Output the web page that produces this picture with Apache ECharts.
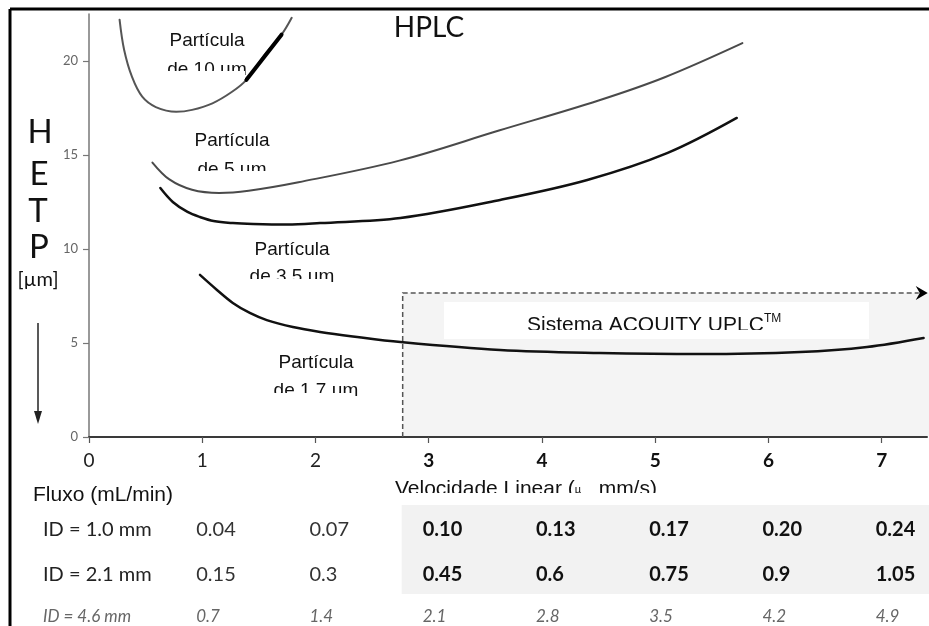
<!DOCTYPE html>
<html><head><meta charset="utf-8">
<script src="https://cdn.jsdelivr.net/npm/echarts@6/dist/echarts.min.js"></script>
<style>html,body{margin:0;padding:0;background:#fff}#c{width:929px;height:626px}</style>
</head><body><div id="c"></div>
<script>
// ---- data ----
const xTicks = [0, 1, 2, 3, 4, 5, 6, 7];
const yTicks = [0, 5, 10, 15, 20];
const boldFrom = 3;
const curve10 = [[0.27,22.2],[0.31,20.6],[0.38,19.15],[0.47,18.1],[0.59,17.55],[0.77,17.3],[0.91,17.4],[1.09,17.75],[1.26,18.35],[1.39,19.0],[1.56,20.4],[1.70,21.4],[1.79,22.3]];
const curve10Bold = [[1.39,19.0],[1.70,21.4]];
const curve5 = [[0.56,14.6],[0.71,13.7],[0.91,13.15],[1.15,12.98],[1.41,13.1],[1.85,13.55],[2.74,14.7],[3.62,16.3],[4.50,17.9],[5.09,19.15],[5.77,20.95]];
const curve35 = [[0.63,13.24],[0.74,12.5],[0.87,11.97],[0.98,11.7],[1.10,11.49],[1.27,11.38],[1.45,11.33],[1.75,11.3],[2.04,11.38],[2.75,11.65],[3.63,12.61],[4.40,13.67],[5.11,15.11],[5.72,16.97]];
const curve17 = [[0.98,8.62],[1.13,7.82],[1.27,7.13],[1.42,6.6],[1.57,6.22],[1.80,5.85],[2.04,5.59],[2.33,5.35],[2.75,5.05],[3.63,4.63],[4.51,4.47],[5.40,4.41],[6.28,4.52],[6.87,4.79],[7.37,5.27]];
const uplcCorner = [2.77, 7.66];
const uplcEndX = 7.38;
const flowCols = [1, 2, 3, 4, 5, 6, 7];
const rowLabels = ['ID = 1.0 mm', 'ID = 2.1 mm', 'ID = 4.6 mm'];
const flowID10 = ['0.04','0.07','0.10','0.13','0.17','0.20','0.24'];
const flowID21 = ['0.15','0.3','0.45','0.6','0.75','0.9','1.05'];
const flowID46 = ['0.7','1.4','2.1','2.8','3.5','4.2','4.9'];

// ---- chart ----
const FUT = 'Lato, "Open Sans", sans-serif';
const ARI = '"Liberation Sans", Arial, sans-serif';
const chart = echarts.init(document.getElementById('c'), null, {renderer: 'canvas', width: 929, height: 626});

function lineSeries(data, color, w, z) {
  return {type: 'line', data: data, smooth: 0.35, symbol: 'none', silent: true, z: z || 3,
    lineStyle: {color: color, width: w, cap: 'round'}};
}

chart.setOption({
  animation: false,
  backgroundColor: '#ffffff',
  grid: {left: 89, right: 2, top: 14, bottom: 189, containLabel: false, outerBoundsMode: 'none'},
  xAxis: {
    type: 'value', min: 0, max: 7.4, interval: 1,
    axisLine: {lineStyle: {color: '#3a3a3a', width: 2}},
    axisTick: {show: true, length: 6, customValues: xTicks, lineStyle: {color: '#555', width: 1.2}},
    axisLabel: {customValues: xTicks, margin: 14, fontFamily: FUT, fontSize: 19, color: '#222',
      formatter: function (v) { return v >= boldFrom ? '{b|' + v + '}' : String(v); },
      rich: {b: {fontWeight: 'bold', fontFamily: FUT, fontSize: 19, color: '#111'}}},
    splitLine: {show: false}
  },
  yAxis: {
    type: 'value', min: 0, max: 22.5, interval: 5,
    axisLine: {show: true, lineStyle: {color: '#777', width: 1.5}},
    axisTick: {show: true, length: 6, customValues: yTicks, lineStyle: {color: '#777', width: 1.2}},
    axisLabel: {customValues: yTicks, margin: 11, fontFamily: FUT, fontSize: 13, color: '#666'},
    splitLine: {show: false}
  },
  series: [
    lineSeries(curve10, '#555', 2),
    lineSeries(curve10Bold, '#000', 4, 4),
    lineSeries(curve5, '#4a4a4a', 2),
    lineSeries(curve35, '#111', 2.5),
    lineSeries(curve17, '#111', 2.5)
  ]
});

// ---- annotations positioned through the axes ----
function px(x, y) { return chart.convertToPixel({gridIndex: 0}, [x, y]); }
const origin = px(0, 0);
const corner = px(uplcCorner[0], uplcCorner[1]);
const endPt = px(uplcEndX, uplcCorner[1]);
const W = 929;

function txt(x, y, text, font, opts) {
  const o = opts || {};
  return {type: 'text', x: x, y: y, z: o.z || 10, scaleX: o.scaleX || 1, silent: true,
    style: Object.assign({text: text, fontFamily: font, fontSize: o.size || 19, fontWeight: o.weight || 'normal',
      fontStyle: o.style || 'normal', fill: o.color || '#111',
      align: o.align || 'center', textAlign: o.align || 'center',
      verticalAlign: 'middle', textVerticalAlign: 'middle'}, o.rich ? {rich: o.rich} : {})};
}
function rect(x, y, w, h, fill, z) {
  return {type: 'rect', silent: true, z: z, shape: {x: x, y: y, width: w, height: h}, style: {fill: fill}};
}

const g = [];
// frame
g.push({type: 'line', silent: true, z: 20, shape: {x1: 10, y1: 9, x2: W, y2: 9}, style: {stroke: '#000', lineWidth: 3}});
g.push({type: 'line', silent: true, z: 20, shape: {x1: 10, y1: 9, x2: 10, y2: 626}, style: {stroke: '#000', lineWidth: 3}});
// UPLC region
g.push(rect(corner[0], corner[1], W - corner[0], origin[1] - corner[1] - 1, '#f4f4f4', -1));
g.push(rect(corner[0] - 1, 505, W - corner[0] + 1, 89, '#f2f2f2', -1));
g.push({type: 'polyline', silent: true, z: 6, shape: {points: [[corner[0], origin[1]], [corner[0], corner[1]], [endPt[0] - 6, corner[1]]]},
  style: {stroke: '#555', lineWidth: 1.5, lineDash: [5, 3], fill: null}});
g.push({type: 'polygon', silent: true, z: 6, shape: {points: [[endPt[0] - 9, corner[1] - 7], [endPt[0] + 3, corner[1]], [endPt[0] - 9, corner[1] + 7], [endPt[0] - 5, corner[1]]]},
  style: {fill: '#000'}});
// Sistema ACQUITY box
g.push(rect(444, 302, 425, 37, '#ffffff', 7));
g.push(txt(527, 325, '{a|Sistema ACQUITY UPLC}{t|TM}', ARI, {size: 21, align: 'left',
  rich: {a: {fontFamily: ARI, fontSize: 21, color: '#111'}, t: {fontFamily: ARI, fontSize: 12, color: '#111', verticalAlign: 'top', padding: [0, 0, 12, 0]}}}));
g.push(rect(444, 330, 425, 9, '#ffffff', 11));
// HPLC
g.push(txt(429, 28, 'HPLC', FUT, {size: 28, color: '#111'}));
// HETP axis title
g.push(txt(40, 132, 'H', FUT, {size: 33}));
g.push(txt(39, 174, 'E', FUT, {size: 33}));
g.push(txt(38, 211, 'T', FUT, {size: 33}));
g.push(txt(39, 247, 'P', FUT, {size: 33}));
g.push(txt(38, 280, '[\u00b5m]', FUT, {size: 20}));
g.push({type: 'line', silent: true, z: 10, shape: {x1: 38, y1: 323, x2: 38, y2: 415}, style: {stroke: '#222', lineWidth: 1.5}});
g.push({type: 'polygon', silent: true, z: 10, shape: {points: [[34, 411], [38, 424], [42, 411]]}, style: {fill: '#222'}});
// particle labels (second line clipped at bottom, as in the original)
const plabels = [
  {cx: 207, b1: 47, b2: 76, clip: 71, t: 'de 10 \u00b5m'},
  {cx: 232, b1: 147, b2: 176, clip: 171, t: 'de 5 \u00b5m'},
  {cx: 292, b1: 256, b2: 283, clip: 279, t: 'de 3.5 \u00b5m'},
  {cx: 316, b1: 369, b2: 397, clip: 393, t: 'de 1.7 \u00b5m'}
];
plabels.forEach(function (p) {
  g.push(txt(p.cx, p.b1 - 6.6, 'Part\u00edcula', ARI, {size: 19}));
  g.push(txt(p.cx, p.b2 - 6.6, p.t, ARI, {size: 19}));
  g.push(rect(p.cx - 44, p.clip, 82, 8, '#ffffff', 11));
});
// table
g.push(txt(33, 503 - 7.3, 'Fluxo (mL/min)', ARI, {size: 21, align: 'left'}));
g.push(txt(395, 497 - 7.3, '{a|Velocidade Linear (}{s|\u00b5}{a|   mm/s)}', ARI, {size: 21, align: 'left',
  rich: {a: {fontFamily: ARI, fontSize: 21, color: '#111'}, s: {fontFamily: ARI, fontSize: 11, color: '#333'}}}));
g.push(rect(390, 493, 300, 10, '#ffffff', 11));
const rowsY = [530, 575, 617];
const rowsVals = [flowID10, flowID21, flowID46];
rowLabels.forEach(function (lab, r) {
  const it = r === 2;
  g.push(txt(43, rowsY[r], lab, FUT, {size: it ? 17 : 20, align: 'left', style: it ? 'italic' : 'normal', color: it ? '#666' : '#222'}));
  flowCols.forEach(function (c, i) {
    const x = px(c, 0)[0] - 6;
    const bold = !it && c >= boldFrom;
    g.push(txt(x, rowsY[r], rowsVals[r][i], FUT, {size: it ? 17 : 20, align: 'left', style: it ? 'italic' : 'normal',
      weight: bold ? 'bold' : 'normal', color: it ? '#666' : (bold ? '#111' : '#333')}));
  });
});
chart.setOption({graphic: {elements: g}});
</script></body></html>
